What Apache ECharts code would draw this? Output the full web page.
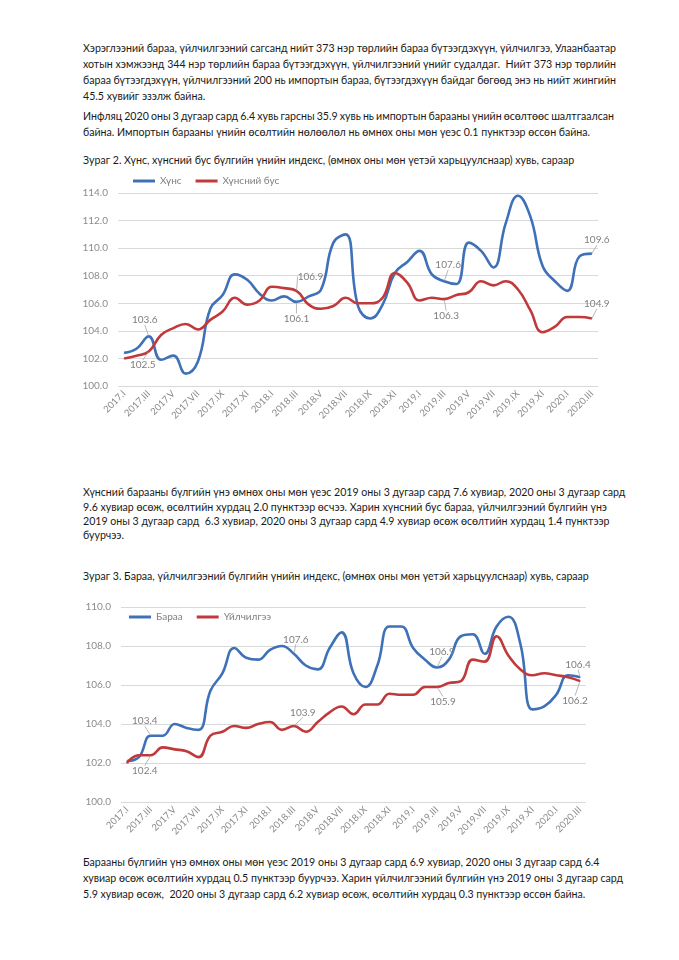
<!DOCTYPE html>
<html>
<head>
<meta charset="utf-8">
<script src="https://cdn.jsdelivr.net/npm/echarts@6/dist/echarts.min.js"></script>
<style>
  html, body { margin: 0; padding: 0; background: #fff; }
  body { width: 679px; height: 960px; position: relative; overflow: hidden; font-family: 'Lato', 'Noto Sans', sans-serif; color: #1a1a1a; }
  .ln { position: absolute; left: 83px; font-size: 10.6px; line-height: 14px; white-space: nowrap; }
  .chart { position: absolute; left: 0; width: 679px; }
</style>
</head>
<body>
<div class="ln" data-w="533" style="top:41px">Хэрэглээний бараа, үйлчилгээний сагсанд нийт 373 нэр төрлийн бараа бүтээгдэхүүн, үйлчилгээ, Улаанбаатар</div>
<div class="ln" data-w="533" style="top:57px">хотын хэмжээнд 344 нэр төрлийн бараа бүтээгдэхүүн, үйлчилгээний үнийг судалдаг.&nbsp; Нийт 373 нэр төрлийн</div>
<div class="ln" data-w="533" style="top:73px">бараа бүтээгдэхүүн, үйлчилгээний 200 нь импортын бараа, бүтээгдэхүүн байдаг бөгөөд энэ нь нийт жингийн</div>
<div class="ln" style="top:89px">45.5 хувийг эзэлж байна.</div>

<div class="ln" data-w="531" style="top:109px">Инфляц 2020 оны 3 дугаар сард 6.4 хувь гарсны 35.9 хувь нь импортын барааны үнийн өсөлтөөс шалтгаалсан</div>
<div class="ln" style="top:125px">байна. Импортын барааны үнийн өсөлтийн нөлөөлөл нь өмнөх оны мөн үеэс 0.1 пунктээр өссөн байна.</div>

<div class="ln" style="top:153px">Зураг 2. Хүнс, хүнсний бус бүлгийн үнийн индекс, (өмнөх оны мөн үетэй харьцуулснаар) хувь, сараар</div>

<div id="c1" class="chart" style="top:165px;height:280px"></div>

<div class="ln" style="top:485px">Хүнсний барааны бүлгийн үнэ өмнөх оны мөн үеэс 2019 оны 3 дугаар сард 7.6 хувиар, 2020 оны 3 дугаар сард</div>
<div class="ln" style="top:500px">9.6 хувиар өсөж, өсөлтийн хурдац 2.0 пунктээр өсчээ. Харин хүнсний бус бараа, үйлчилгээний бүлгийн үнэ</div>
<div class="ln" style="top:514px">2019 оны 3 дугаар сард&nbsp; 6.3 хувиар, 2020 оны 3 дугаар сард 4.9 хувиар өсөж өсөлтийн хурдац 1.4 пунктээр</div>
<div class="ln" style="top:528px">буурчээ.</div>

<div class="ln" style="top:569px">Зураг 3. Бараа, үйлчилгээний бүлгийн үнийн индекс, (өмнөх оны мөн үетэй харьцуулснаар) хувь, сараар</div>

<div id="c2" class="chart" style="top:595px;height:260px"></div>

<div class="ln" style="top:855px">Барааны бүлгийн үнэ өмнөх оны мөн үеэс 2019 оны 3 дугаар сард 6.9 хувиар, 2020 оны 3 дугаар сард 6.4</div>
<div class="ln" style="top:871px">хувиар өсөж өсөлтийн хурдац 0.5 пунктээр буурчээ. Харин үйлчилгээний бүлгийн үнэ 2019 оны 3 дугаар сард</div>
<div class="ln" style="top:887px">5.9 хувиар өсөж,&nbsp; 2020 оны 3 дугаар сард 6.2 хувиар өсөж, өсөлтийн хурдац 0.3 пунктээр өссөн байна.</div>

<script>
// ---------- data ----------
const categories = [
  '2017.I','2017.II','2017.III','2017.IV','2017.V','2017.VI','2017.VII','2017.VIII','2017.IX','2017.X','2017.XI','2017.XII',
  '2018.I','2018.II','2018.III','2018.IV','2018.V','2018.VI','2018.VII','2018.VIII','2018.IX','2018.X','2018.XI','2018.XII',
  '2019.I','2019.II','2019.III','2019.IV','2019.V','2019.VI','2019.VII','2019.VIII','2019.IX','2019.X','2019.XI','2019.XII',
  '2020.I','2020.II','2020.III'
];
const food = [102.4,102.7,103.6,101.9,102.2,100.9,101.8,105.6,106.6,108.1,107.7,106.7,
              106.2,106.5,106.1,106.5,107.0,110.4,111.0,105.8,104.9,105.9,108.2,109.0,
              109.8,108.1,107.6,107.4,110.4,109.8,108.6,111.8,113.8,112.3,108.7,107.6,
              106.9,109.4,109.6];
const nonFood = [102.0,102.2,102.5,103.7,104.2,104.5,104.1,104.8,105.4,106.4,105.9,106.2,
                 107.2,107.1,106.9,105.9,105.6,105.8,106.4,106.0,106.0,106.4,108.2,107.5,
                 106.2,106.4,106.3,106.6,106.8,107.6,107.3,107.6,107.0,105.5,103.9,104.3,
                 105.0,105.0,104.9];
const goods = [102.1,102.3,103.4,103.4,104.0,103.8,103.7,105.7,106.6,107.9,107.4,107.3,
               107.8,108.0,107.6,107.0,106.8,107.9,108.7,106.6,105.9,107.0,109.0,109.0,
               107.9,107.3,106.9,107.3,108.5,108.6,107.6,109.0,109.5,108.1,104.75,104.9,
               105.5,106.5,106.4];
const services = [102.0,102.4,102.4,102.8,102.7,102.6,102.3,103.4,103.6,103.9,103.8,104.0,
                  104.1,103.7,103.9,103.6,104.1,104.6,104.9,104.5,105.0,105.0,105.55,105.5,
                  105.5,105.9,105.9,106.1,106.2,107.3,107.2,108.5,107.5,106.8,106.5,106.6,
                  106.5,106.4,106.2];
const labeledIdx = [2, 14, 26, 38];
const yTicks1 = { min: 100, max: 114, interval: 2 };
const yTicks2 = { min: 100, max: 110, interval: 2 };

// ---------- text fitting for justified lines ----------
document.querySelectorAll('.ln[data-w]').forEach(el => {
  const target = +el.dataset.w;
  const w = el.getBoundingClientRect().width;
  const spaces = (el.textContent.match(/[ \u00a0]/g) || []).length;
  if (spaces) el.style.wordSpacing = ((target - w) / spaces) + 'px';
});

// ---------- charts ----------
const BLUE = '#3e71b8', RED = '#c0393b';
const FONT = "'Lato', 'Noto Sans', sans-serif";

function makeSeries(name, values, color, layout) {
  return {
    name, type: 'line', smooth: 0.45, symbol: 'circle', symbolSize: 1, showSymbol: true,
    lineStyle: { width: 2.6, color }, itemStyle: { color },
    emphasis: { disabled: true },
    data: values.map((v, i) => labeledIdx.includes(i) ? {
      value: v,
      label: { show: true, position: layout[i].pos, formatter: p => p.value.toFixed(1),
               color: '#7f7f7f', fontSize: 10, fontFamily: FONT }
    } : v),
    labelLine: { show: true, lineStyle: { color: '#a6a6a6', width: 0.8 } },
    labelLayout: p => layout[p.dataIndex] ? { dx: layout[p.dataIndex].dx, dy: layout[p.dataIndex].dy, hideOverlap: false } : {}
  };
}

function baseOption(grid, yt, legendPos) {
  return {
    animation: false,
    textStyle: { fontFamily: FONT },
    grid,
    legend: Object.assign({
      icon: 'rect', itemWidth: 22, itemHeight: 3, itemGap: 14,
      textStyle: { color: '#7f7f7f', fontSize: 10, fontFamily: FONT }
    }, legendPos),
    xAxis: {
      type: 'category', data: categories, boundaryGap: true,
      axisLine: { show: false }, axisTick: { show: false },
      axisLabel: { interval: 1, rotate: 45, color: '#8c8c8c', fontSize: 9.5, fontFamily: FONT, margin: 6 }
    },
    yAxis: {
      type: 'value', min: yt.min, max: yt.max, interval: yt.interval,
      axisLine: { show: false }, axisTick: { show: false },
      axisLabel: { formatter: v => v.toFixed(1), color: '#8c8c8c', fontSize: 10, fontFamily: FONT, margin: 10 },
      splitLine: { lineStyle: { color: '#d9d9d9', width: 1 } }
    }
  };
}

const c1 = echarts.init(document.getElementById('c1'), null, { renderer: 'canvas' });
const opt1 = baseOption({ left: 118, right: 81, top: 28, bottom: 59 }, yTicks1, { left: 128, top: 6 });
opt1.series = [
  makeSeries('Хүнс', food, BLUE, {
    2: { pos: 'top', dx: -4, dy: -6 }, 14: { pos: 'bottom', dx: 0, dy: 6 },
    26: { pos: 'top', dx: 4, dy: -6 }, 38: { pos: 'top', dx: 5, dy: -3 }
  }),
  makeSeries('Хүнсний бус', nonFood, RED, {
    2: { pos: 'bottom', dx: -6, dy: 3 }, 14: { pos: 'top', dx: 14, dy: -4 },
    26: { pos: 'bottom', dx: 2, dy: 6 }, 38: { pos: 'top', dx: 5, dy: -4 }
  })
];
c1.setOption(opt1);

const c2 = echarts.init(document.getElementById('c2'), null, { renderer: 'canvas' });
const opt2 = baseOption({ left: 121, right: 93, top: 12, bottom: 53 }, yTicks2, { left: 124, top: 12 });
opt2.series = [
  makeSeries('Бараа', goods, BLUE, {
    2: { pos: 'top', dx: -6, dy: -4 }, 14: { pos: 'top', dx: 2, dy: -4 },
    26: { pos: 'top', dx: 5, dy: -5 }, 38: { pos: 'top', dx: -2, dy: -2 }
  }),
  makeSeries('Үйлчилгээ', services, RED, {
    2: { pos: 'bottom', dx: -6, dy: 5 }, 14: { pos: 'top', dx: 9, dy: -3 },
    26: { pos: 'bottom', dx: 6, dy: 4 }, 38: { pos: 'bottom', dx: -5, dy: 9 }
  })
];
c2.setOption(opt2);
</script>
</body>
</html>
